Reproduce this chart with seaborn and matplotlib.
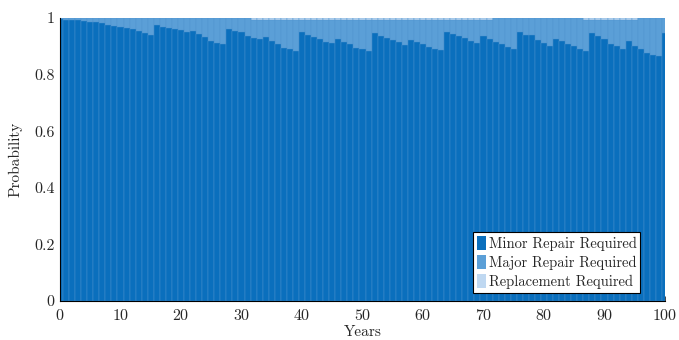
import numpy as np
import pandas as pd
import matplotlib
matplotlib.use('Agg')
import matplotlib.pyplot as plt
from matplotlib.patches import Patch
import seaborn as sns

# Values (years 0..100)
years = list(range(0, 101))

minor = [
    0.995, 0.993, 0.993, 0.993, 0.989, 0.987, 0.986, 0.982, 0.976, 0.972, 0.969, 0.965, 0.960, 0.953, 0.946, 0.940,
    0.975, 0.969, 0.966, 0.961, 0.958, 0.951, 0.953, 0.942, 0.934, 0.920, 0.912, 0.907,
    0.961, 0.955, 0.949, 0.938, 0.929, 0.925, 0.932, 0.920, 0.909, 0.895, 0.890, 0.882,
    0.949, 0.941, 0.934, 0.924, 0.915, 0.911, 0.926, 0.915, 0.908, 0.893, 0.889, 0.882,
    0.946, 0.936, 0.929, 0.922, 0.914, 0.905, 0.922, 0.915, 0.907, 0.897, 0.890, 0.887,
    0.952, 0.945, 0.935, 0.929, 0.919, 0.912, 0.936, 0.926, 0.916, 0.907, 0.899, 0.891,
    0.951, 0.941, 0.939, 0.922, 0.911, 0.901, 0.926, 0.918, 0.909, 0.900, 0.891, 0.882,
    0.947, 0.938, 0.924, 0.909, 0.902, 0.890, 0.918, 0.902, 0.890, 0.876, 0.869, 0.865,
    0.946,
]

replacement = [
    0, 0, 0, 0, 0, 0, 0, 0, 0, 0, 0, 0, 0, 0, 0, 0,
    0, 0, 0, 0, 0, 0, 0, 0, 0, 0, 0, 0,
    0, 0, 0, 0, 0.006, 0.006, 0.006, 0.006, 0.006, 0.006, 0.006, 0.006,
    0.006, 0.006, 0.006, 0.006, 0.006, 0.006, 0.006, 0.006, 0.006, 0.006, 0.006, 0.006,
    0.006, 0.006, 0.006, 0.006, 0.006, 0.006, 0.006, 0.006, 0.006, 0.006, 0.006, 0.006,
    0.006, 0.006, 0.006, 0.006, 0.006, 0.006, 0.006, 0.006, 0, 0, 0, 0,
    0, 0, 0, 0, 0, 0, 0, 0, 0, 0, 0, 0.006,
    0.006, 0.006, 0.006, 0.006, 0.006, 0.006, 0.006, 0.006, 0, 0, 0, 0,
    0,
]

# major repair fills the rest of each bar up to 1
df = pd.DataFrame({'Year': years, 'Minor': minor, 'Replacement': replacement})
df['Major'] = 1.0 - df['Minor'] - df['Replacement']
df['MinorMajor'] = df['Minor'] + df['Major']
df['Total'] = df['MinorMajor'] + df['Replacement']

c_minor = '#0a6fbd'
c_major = '#5b9fd7'
c_repl = '#bfd8f1'

sns.set_theme(style='ticks')
plt.rcParams['font.family'] = ['cmr10', 'DejaVu Serif']
plt.rcParams['axes.formatter.use_mathtext'] = True

fig = plt.figure(figsize=(6.79, 3.40), dpi=100)
ax = fig.add_axes([0.0884, 0.1147, 0.8910, 0.8324])

# stacked bars: draw cumulative totals back to front
for col, c in [('Total', c_repl), ('MinorMajor', c_major), ('Minor', c_minor)]:
    sns.barplot(data=df, x='Year', y=col, color=c, native_scale=True, width=1.0,
                edgecolor='#4f94cf', linewidth=0.3, saturation=1, ax=ax)

ax.set_xlim(0, 100)
ax.set_ylim(0, 1)
ax.set_xticks(np.arange(0, 101, 10))
ax.set_yticks([0, 0.2, 0.4, 0.6, 0.8, 1])
ax.set_yticklabels(['0', '0.2', '0.4', '0.6', '0.8', '1'])
ax.set_xlabel('Years', fontsize=11, labelpad=2)
ax.set_ylabel('Probability', fontsize=11, labelpad=8)
ax.tick_params(axis='both', direction='in', length=3.5, width=0.6, labelsize=11.5)
ax.tick_params(axis='x', pad=5)
ax.tick_params(axis='y', pad=4)
sns.despine(ax=ax)
for s in ['left', 'bottom']:
    ax.spines[s].set_linewidth(0.8)
    ax.spines[s].set_color('black')

handles = [Patch(facecolor=c_minor, edgecolor='none'),
           Patch(facecolor=c_major, edgecolor='none'),
           Patch(facecolor=c_repl, edgecolor='none')]
labels = ['Minor Repair Required', 'Major Repair Required', 'Replacement Required']
leg = ax.legend(handles, labels, loc='lower right', bbox_to_anchor=(0.959, 0.028),
                fontsize=10.5, frameon=True, fancybox=False, framealpha=1,
                edgecolor='black', handlelength=0.6, handleheight=1.1,
                handletextpad=0.2, labelspacing=0.3, borderpad=0.25, borderaxespad=0)
leg.get_frame().set_linewidth(0.8)

fig.savefig('out.png', dpi=100)
